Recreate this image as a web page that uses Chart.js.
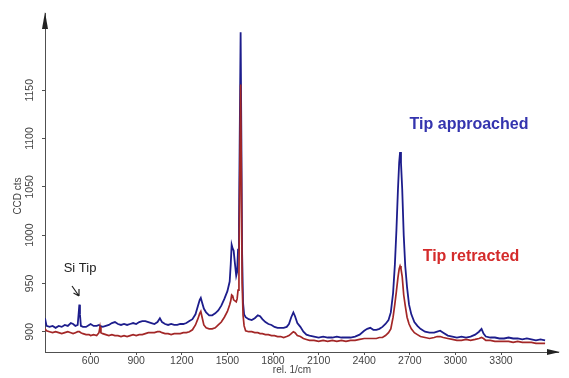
<!DOCTYPE html>
<html>
<head>
<meta charset="utf-8">
<script src="https://cdn.jsdelivr.net/npm/chart.js@4/dist/chart.umd.min.js"></script>
<style>
  html, body { margin: 0; padding: 0; background: #fff; }
  #wrap { width: 569px; height: 378px; position: relative; }
</style>
</head>
<body>
<div id="wrap"><canvas id="spectrum"></canvas></div>
<script>
// wavenumber (rel. 1/cm)
const wavenumbers = [
  300, 310, 330, 350, 370, 390, 410, 430, 450, 470, 485, 500, 515, 522, 526, 530, 536, 550, 570, 590,
  600, 620, 640, 655, 662, 668, 680, 700, 720, 740, 760, 780, 800, 820, 840, 860, 880, 900, 920, 940,
  960, 980, 1000, 1020, 1040, 1056, 1070, 1090, 1110, 1130, 1150, 1170, 1190, 1210, 1230, 1250, 1270, 1290, 1305, 1318,
  1325, 1332, 1345, 1360, 1380, 1400, 1420, 1440, 1460, 1480, 1500, 1515, 1522, 1528, 1535, 1541, 1550, 1558, 1564, 1570,
  1576, 1582, 1587, 1592, 1597, 1603, 1610, 1620, 1640, 1660, 1680, 1700, 1715, 1730, 1750, 1770, 1790, 1810, 1830, 1850,
  1870, 1890, 1905, 1920, 1934, 1945, 1960, 1980, 2000, 2020, 2040, 2070, 2100, 2130, 2160, 2190, 2220, 2250, 2280, 2310,
  2340, 2370, 2400, 2420, 2440, 2460, 2480, 2500, 2520, 2540, 2560, 2575, 2590, 2602, 2612, 2622, 2630, 2636, 2642, 2650,
  2660, 2670, 2682, 2695, 2710, 2730, 2750, 2770, 2800, 2830, 2860, 2880, 2900, 2920, 2950, 2980, 3010, 3040, 3070, 3100,
  3130, 3155, 3172, 3185, 3200, 3230, 3260, 3290, 3320, 3350, 3380, 3410, 3440, 3470, 3500, 3530, 3560, 3590
];

// CCD cts, tip approached (blue)
const approached = [
  914, 906, 905, 906, 904, 906, 905, 907, 906, 909, 908, 906, 907, 920, 928, 918, 906, 905, 905, 907,
  908, 906, 906, 907, 906, 906, 905, 906, 907, 909, 910, 908, 907, 908, 907, 908, 909, 908, 910, 911,
  911, 910, 909, 908, 910, 914, 910, 908, 907, 908, 907, 907, 908, 908, 909, 911, 913, 918, 926, 933,
  935, 931, 924, 920, 917, 917, 919, 922, 927, 934, 942, 952, 970, 990, 986, 984, 970, 958, 962, 985,
  1010, 1120, 1210, 1100, 980, 930, 918, 915, 913, 912, 914, 917, 916, 913, 910, 908, 907, 905, 904, 904,
  904, 905, 908, 915, 920, 916, 909, 905, 900, 897, 896, 895, 894, 895, 894, 894, 895, 894, 894, 894,
  895, 897, 901, 903, 904, 902, 902, 903, 905, 908, 912, 920, 940, 970, 1005, 1047, 1075, 1086, 1075, 1048,
  1000, 968, 946, 928, 918, 910, 906, 903, 900, 899, 899, 900, 901, 899, 896, 895, 894, 895, 894, 895,
  897, 900, 903, 898, 895, 894, 894, 893, 893, 894, 893, 893, 892, 893, 892, 891, 892, 891
];

// CCD cts, tip retracted (red)
const retracted = [
  903, 901, 900, 899, 900, 899, 898, 899, 900, 899, 898, 899, 900, 900, 900, 900, 899, 898, 897, 897,
  896, 897, 896, 899, 905, 899, 898, 897, 896, 897, 896, 896, 895, 896, 895, 896, 897, 896, 897, 897,
  898, 899, 899, 899, 900, 900, 899, 898, 898, 897, 898, 898, 898, 899, 899, 900, 902, 907, 913, 919,
  921, 916, 907, 904, 903, 903, 904, 907, 910, 915, 921, 928, 932, 938, 937, 933, 932, 931, 934, 943,
  960, 1070, 1156, 1060, 950, 917, 906, 901, 900, 900, 899, 899, 898, 898, 897, 897, 896, 896, 895, 895,
  894, 895, 896, 898, 900, 899, 896, 895, 893, 892, 891, 891, 890, 891, 890, 891, 890, 891, 890, 891,
  891, 892, 893, 893, 893, 893, 893, 894, 894, 896, 899, 903, 915, 929, 942, 956, 965, 968, 965, 957,
  938, 927, 915, 908, 903, 899, 897, 895, 894, 893, 894, 895, 895, 894, 893, 892, 891, 891, 892, 891,
  892, 893, 894, 893, 891, 891, 890, 890, 890, 890, 889, 890, 889, 889, 889, 888, 888, 888
];

const xTicks = [600, 900, 1200, 1500, 1800, 2100, 2400, 2700, 3000, 3300];
const yTicks = [900, 950, 1000, 1050, 1100, 1150];

const axisColor = '#505050';
const labelFont = { family: 'Liberation Sans, Arial, sans-serif', size: 10.5 };

function toPoints(values) {
  return values.map((v, i) => ({ x: wavenumbers[i], y: v }));
}

const annotations = {
  id: 'annotations',
  afterDraw(chart) {
    const ctx = chart.ctx;
    const area = chart.chartArea;
    ctx.save();

    // arrow heads on the axes
    ctx.fillStyle = '#222';
    ctx.beginPath();
    ctx.moveTo(area.left, area.top - 1);
    ctx.lineTo(area.left - 3, area.top + 16);
    ctx.lineTo(area.left + 3, area.top + 16);
    ctx.closePath();
    ctx.fill();
    ctx.beginPath();
    ctx.moveTo(area.right + 2, area.bottom);
    ctx.lineTo(area.right - 11, area.bottom - 3);
    ctx.lineTo(area.right - 11, area.bottom + 3);
    ctx.closePath();
    ctx.fill();

    // axis titles
    ctx.fillStyle = '#444';
    ctx.font = '10px Liberation Sans, Arial, sans-serif';
    ctx.textAlign = 'center';
    ctx.textBaseline = 'middle';
    ctx.fillText('rel. 1/cm', 292, 370);
    ctx.save();
    ctx.translate(18, 196);
    ctx.rotate(-Math.PI / 2);
    ctx.fillText('CCD cts', 0, 0);
    ctx.restore();

    // labels
    ctx.font = 'bold 16px Liberation Sans, Arial, sans-serif';
    ctx.fillStyle = '#3434ae';
    ctx.fillText('Tip approached', 469, 125);
    ctx.fillStyle = '#d42b2b';
    ctx.fillText('Tip retracted', 471, 257);

    ctx.font = '13px Liberation Sans, Arial, sans-serif';
    ctx.fillStyle = '#222';
    ctx.fillText('Si Tip', 80, 268);

    // little arrow to the Si peak
    ctx.strokeStyle = '#222';
    ctx.lineWidth = 1.2;
    ctx.beginPath();
    ctx.moveTo(72, 286);
    ctx.lineTo(79, 296);
    ctx.moveTo(79, 296);
    ctx.lineTo(79, 289);
    ctx.moveTo(79, 296);
    ctx.lineTo(73.5, 293);
    ctx.stroke();

    ctx.restore();
  }
};

new Chart(document.getElementById('spectrum'), {
  type: 'line',
  data: {
    datasets: [
      {
        label: 'Tip approached',
        data: toPoints(approached),
        borderColor: '#1d1d8c',
        borderWidth: 1.8,
        pointRadius: 0,
        tension: 0,
        order: 2
      },
      {
        label: 'Tip retracted',
        data: toPoints(retracted),
        borderColor: '#a32727',
        borderWidth: 1.7,
        pointRadius: 0,
        tension: 0,
        order: 1
      }
    ]
  },
  options: {
    responsive: true,
    maintainAspectRatio: false,
    animation: false,
    layout: { padding: { top: 13, right: 11, left: 0, bottom: 0 } },
    plugins: {
      legend: { display: false },
      tooltip: { enabled: false }
    },
    scales: {
      x: {
        type: 'linear',
        min: 300,
        max: 3675,
        afterBuildTicks: (scale) => { scale.ticks = xTicks.map(v => ({ value: v })); },
        afterFit: (scale) => { scale.height = 26; },
        border: { display: true, color: axisColor, width: 1 },
        grid: { display: true, drawOnChartArea: false, drawTicks: true, tickLength: 3, color: axisColor },
        ticks: { color: '#444', font: labelFont, padding: 0, maxRotation: 0, autoSkip: false, callback: (v) => String(v) }
      },
      y: {
        type: 'linear',
        min: 879,
        max: 1230,
        afterBuildTicks: (scale) => { scale.ticks = yTicks.map(v => ({ value: v })); },
        afterFit: (scale) => { scale.width = 45; },
        border: { display: true, color: axisColor, width: 1 },
        grid: { display: true, drawOnChartArea: false, drawTicks: true, tickLength: 3, color: axisColor },
        ticks: { color: '#444', font: labelFont, padding: 0, minRotation: 90, maxRotation: 90, crossAlign: 'center', autoSkip: false, callback: (v) => String(v) }
      }
    }
  },
  plugins: [annotations]
});
</script>
</body>
</html>
